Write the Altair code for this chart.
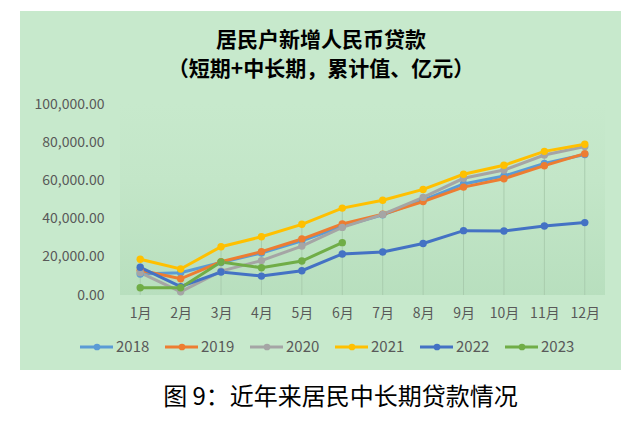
import altair as alt
import pandas as pd

months = ["1月", "2月", "3月", "4月", "5月", "6月", "7月", "8月", "9月", "10月", "11月", "12月"]
years = ["2018", "2019", "2020", "2021", "2022", "2023"]
colors = ["#5B9BD5", "#ED7D31", "#A5A5A5", "#FFC000", "#4472C4", "#70AD47"]

y2018 = [11000, 11700, 17000, 22000, 28400, 36000, 42000, 49700, 58100, 62300, 68900, 73600]
y2019 = [13000, 8500, 17400, 22700, 29300, 37200, 42250, 48900, 56500, 60900, 67700, 74000]
y2020 = [11700, 1700, 12500, 18000, 25600, 35400, 42200, 51100, 61100, 65400, 73300, 77700]
y2021 = [18700, 13600, 25300, 30500, 37000, 45500, 49600, 55300, 63200, 67900, 75200, 78900]
y2022 = [14500, 4400, 12000, 9900, 12700, 21500, 22500, 27000, 33700, 33500, 36100, 37900]
y2023 = [3800, 3800, 17300, 14300, 17800, 27400]

title1 = "居民户新增人民币贷款"
title2 = "（短期+中长期，累计值、亿元）"
caption = "图 9：近年来居民中长期贷款情况"

series = [y2018, y2019, y2020, y2021, y2022, y2023]
rows = []
for yr, vals in zip(years, series):
    for i, v in enumerate(vals):
        rows.append({"year": yr, "month": months[i], "m": i, "value": v})
df = pd.DataFrame(rows).sort_values(["year", "m"])

drop = df.groupby(["month", "m"], as_index=False)["value"].max()

FONT = "Noto Sans CJK SC"
W, H = 485, 191
BG = "#C7E9CC"

xenc = alt.X("month:O", sort=months, scale=alt.Scale(type="point", padding=0.5),
             axis=alt.Axis(title=None, labelAngle=0, domain=False, ticks=False,
                           labelFontSize=14, labelColor="#595959", labelFont=FONT,
                           labelPadding=11, zindex=1))
yenc = alt.Y("value:Q", scale=alt.Scale(domain=[0, 100000]),
             axis=alt.Axis(title=None, format=",.2f", values=[0, 20000, 40000, 60000, 80000, 100000],
                           domain=False, ticks=False, grid=False, labelFontSize=14,
                           labelColor="#595959", labelFont=FONT, labelPadding=16, zindex=1))

cscale = alt.Scale(domain=years, range=colors)

dummy = pd.DataFrame({"a": [0]})

bg = alt.Chart(dummy).mark_rect(color=BG).encode(
    x=alt.value(-100), x2=alt.value(501), y=alt.value(-93), y2=alt.value(266))

grad = alt.Chart(dummy).mark_rect(
    color=alt.Gradient(gradient="linear",
                       stops=[alt.GradientStop(color=BG, offset=0),
                              alt.GradientStop(color="#C3E6C8", offset=0.4),
                              alt.GradientStop(color="#B8DFBE", offset=1)],
                       x1=0, x2=0, y1=0, y2=1)
).encode(x=alt.value(0), x2=alt.value(W), y=alt.value(0), y2=alt.value(H))

drops = alt.Chart(drop).mark_rule(color="#A9CCAE", strokeWidth=1).encode(
    x=xenc, y=yenc, y2=alt.datum(0))

lines = alt.Chart(df).mark_line(strokeWidth=3).encode(
    x=xenc, y=yenc, color=alt.Color("year:N", scale=cscale, legend=None), detail="year:N")

points = alt.Chart(df).mark_point(filled=True, size=55, opacity=1).encode(
    x=xenc, y=yenc, color=alt.Color("year:N", scale=cscale, legend=None))

main = alt.layer(drops, lines, points)

t1 = alt.Chart(dummy).mark_text(font=FONT, fontSize=21, fontWeight="bold", color="#000000",
                                align="center", baseline="middle").encode(
    x=alt.value(201), y=alt.value(-63), text=alt.value(title1))
t2 = alt.Chart(dummy).mark_text(font=FONT, fontSize=21, fontWeight="bold", color="#000000",
                                align="center", baseline="middle").encode(
    x=alt.value(201), y=alt.value(-34), text=alt.value(title2))
cap = alt.Chart(dummy).mark_text(font=FONT, fontSize=24, color="#000000",
                                 align="center", baseline="middle").encode(
    x=alt.value(220.5), y=alt.value(294), text=alt.value(caption))

leg = pd.DataFrame({"year": years})
leg["cx"] = [-23 + 85 * i for i in range(len(years))]
leg["x1"] = leg["cx"] - 17
leg["x2"] = leg["cx"] + 16
leg["tx"] = leg["cx"] + 19
leg["ly"] = 243

lx = lambda f: alt.X(f, scale=None, axis=None)
ly = alt.Y("ly:Q", scale=None, axis=None)
lrule = alt.Chart(leg).mark_rule(strokeWidth=3).encode(
    x=lx("x1:Q"), x2="x2:Q", y=ly,
    color=alt.Color("year:N", scale=cscale, legend=None))
lpt = alt.Chart(leg).mark_point(filled=True, size=45, opacity=1).encode(
    x=lx("cx:Q"), y=ly,
    color=alt.Color("year:N", scale=cscale, legend=None))
ltxt = alt.Chart(leg).mark_text(font=FONT, fontSize=15, color="#595959", align="left",
                                baseline="middle").encode(
    x=lx("tx:Q"), y=ly, text="year:N")
legend = alt.layer(lrule, lpt, ltxt)

chart = alt.layer(bg, grad, main, t1, t2, cap, legend).resolve_scale(
    x="independent", y="independent"
).properties(
    width=W, height=H,
    autosize=alt.AutoSizeParams(type="none"),
    padding={"left": 112, "top": 96, "right": 20, "bottom": 118},
    background="#FFFFFF",
).configure_view(stroke=None)

chart.save("out.html", embed_options={"renderer": "svg", "actions": False})
